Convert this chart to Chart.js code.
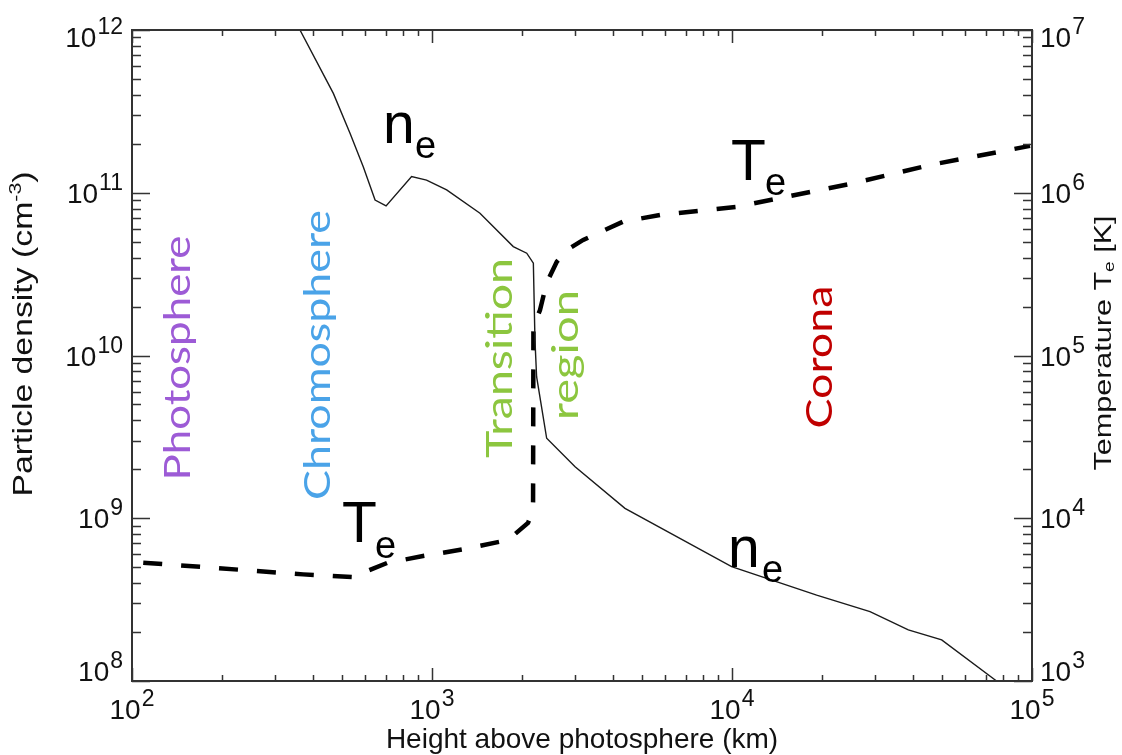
<!DOCTYPE html>
<html><head><meta charset="utf-8">
<script src="https://cdn.jsdelivr.net/npm/chart.js@4/dist/chart.umd.min.js"></script>
<style>html,body{margin:0;padding:0;background:#fff;} #wrap{width:1122px;height:755px;position:relative;}</style>
</head><body><div id="wrap"><canvas id="c"></canvas></div>
<script>
// ---- data ----
const heightNe  = [363, 469, 533, 590, 646, 703, 855, 959, 1119, 1445, 1866, 2069, 2177, 2204, 2232, 2411, 2999, 4398, 9970, 19150, 28840, 38700, 50000, 76200];
const densityNe = [1e12, 4.08e11, 2.32e11, 1.445e11, 9.02e10, 8.3e10, 1.256e11, 1.197e11, 1.04e11, 7.48e10, 4.67e10, 4.25e10, 3.69e10, 1.245e10, 7.41e9, 3.1e9, 2.07e9, 1.15e9, 5.04e8, 3.37e8, 2.67e8, 2.06e8, 1.79e8, 1.0e8];
const heightTe  = [109, 372, 541, 708, 933, 1268, 1792, 2089, 2172, 2178, 2291, 2411, 2606, 2812, 3192, 4335, 5754, 10380, 25300, 45700, 98500];
const tempTe    = [5330, 4520, 4350, 5310, 5860, 6440, 7350, 9350, 11250, 1.5e5, 1.905e5, 2.79e5, 3.77e5, 4.45e5, 5.13e5, 6.64e5, 7.3e5, 8.2e5, 1.143e6, 1.48e6, 1.94e6];
const xTickExps    = [2, 3, 4, 5];
const densTickExps = [8, 9, 10, 11, 12];
const tempTickExps = [3, 4, 5, 6, 7];
const xTitle = 'Height above photosphere (km)';
const leftTitleParts  = ['Particle density (cm', '-3', ')'];
const rightTitleParts = ['Temperature T', 'e', ' [K]'];
const regionNames = ['Photosphere', 'Chromosphere', 'Transition', 'region', 'Corona'];

// ---- layout / style ----
const regionStyle = [
  {color:'#9d5bd6', cx:178, cy:358, len:245},
  {color:'#4aa3e8', cx:318, cy:355, len:290},
  {color:'#8cc63f', cx:500, cy:358, len:200},
  {color:'#8cc63f', cx:566, cy:355, len:130},
  {color:'#c00000', cx:820, cy:357, len:143}
];
const SANS = '"Liberation Sans", Arial, Helvetica, sans-serif';
const REGION_FONT = 'Lato, "Open Sans", sans-serif';

function drawPow(ctx, exp, x, baseY, align) {
  ctx.textBaseline = 'alphabetic';
  ctx.font = '28px ' + SANS;
  const wb = ctx.measureText('10').width;
  ctx.font = '23px ' + SANS;
  const we = ctx.measureText(String(exp)).width;
  const total = wb + we + 1;
  let x0 = align === 'right' ? x - total : align === 'center' ? x - total / 2 : x;
  ctx.textAlign = 'left';
  ctx.font = '28px ' + SANS;
  ctx.fillText('10', x0, baseY);
  ctx.font = '23px ' + SANS;
  ctx.fillText(String(exp), x0 + wb + 1, baseY - 13);
}

function rotText(ctx, parts, cx, cy, targetLen) {
  // parts: [{t, font, dy}]
  ctx.save();
  ctx.translate(cx, cy);
  ctx.rotate(-Math.PI / 2);
  let w = 0;
  parts.forEach(p => { ctx.font = p.font; p.w = ctx.measureText(p.t).width; w += p.w; });
  const sx = targetLen ? targetLen / w : 1;
  ctx.scale(sx, 1);
  let x = -w / 2;
  ctx.textAlign = 'left';
  ctx.textBaseline = 'middle';
  parts.forEach(p => { ctx.font = p.font; ctx.fillText(p.t, x, p.dy || 0); x += p.w; });
  ctx.restore();
}

const decor = {
  id: 'decor',
  beforeDatasetsDraw(chart) {
    const ctx = chart.ctx;
    ctx.save();
    regionNames.forEach((name, i) => {
      const s = regionStyle[i];
      ctx.fillStyle = s.color;
      rotText(ctx, [{t:name, font:'36px ' + REGION_FONT}], s.cx, s.cy, s.len);
    });
    ctx.restore();
  },
  afterDatasetsDraw(chart) {
    const ctx = chart.ctx;
    const {left, right, top, bottom} = chart.chartArea;
    const xs = chart.scales.x, ys = chart.scales.y, ts = chart.scales.y2;
    ctx.save();
    ctx.strokeStyle = '#333';
    ctx.lineWidth = 2;
    ctx.strokeRect(left, top, right - left, bottom - top);
    ctx.lineWidth = 1.5;
    ctx.beginPath();
    // x ticks (bottom + top)
    for (let e = xTickExps[0]; e <= xTickExps[xTickExps.length - 1]; e++) {
      for (let m = 1; m <= 9; m++) {
        const v = m * Math.pow(10, e);
        if (v > xs.max * 1.0001) break;
        const px = Math.round(xs.getPixelForValue(v)) + 0.5;
        const L = m === 1 ? 13 : 6;
        ctx.moveTo(px, bottom); ctx.lineTo(px, bottom - L);
        ctx.moveTo(px, top); ctx.lineTo(px, top + L);
      }
    }
    // y ticks left and right
    const yTicks = (scale, exps, fromX, dir) => {
      for (let e = exps[0]; e <= exps[exps.length - 1]; e++) {
        for (let m = 1; m <= 9; m++) {
          const v = m * Math.pow(10, e);
          if (v > scale.max * 1.0001) break;
          const py = Math.round(scale.getPixelForValue(v)) + 0.5;
          const L = m === 1 ? 18 : 9;
          ctx.moveTo(fromX, py); ctx.lineTo(fromX + dir * L, py);
        }
      }
    };
    yTicks(ys, densTickExps, left, 1);
    yTicks(ts, tempTickExps, right, -1);
    ctx.stroke();

    // tick labels
    ctx.fillStyle = '#111';
    xTickExps.forEach(e => drawPow(ctx, e, xs.getPixelForValue(Math.pow(10, e)), 719, 'center'));
    const clampY = py => Math.min(Math.max(py + 10, top + 17), bottom);
    densTickExps.forEach(e => drawPow(ctx, e, left - 9, clampY(ys.getPixelForValue(Math.pow(10, e))), 'right'));
    tempTickExps.forEach(e => drawPow(ctx, e, right + 8, clampY(ts.getPixelForValue(Math.pow(10, e))), 'left'));

    // axis titles
    ctx.font = '28px ' + SANS;
    ctx.textAlign = 'center';
    ctx.textBaseline = 'alphabetic';
    ctx.fillText(xTitle, (left + right) / 2 + 0, 748);
    rotText(ctx, [
      {t:leftTitleParts[0], font:'27px ' + SANS},
      {t:leftTitleParts[1], font:'17px ' + SANS, dy:-9},
      {t:leftTitleParts[2], font:'27px ' + SANS}
    ], 25, 334, 325);
    rotText(ctx, [
      {t:rightTitleParts[0], font:'24px ' + SANS},
      {t:rightTitleParts[1], font:'15px ' + SANS, dy:6},
      {t:rightTitleParts[2], font:'24px ' + SANS}
    ], 1104, 343, 255);

    // curve annotations
    const ann = (big, bx, by, sx, sy) => {
      ctx.textAlign = 'left';
      ctx.textBaseline = 'alphabetic';
      ctx.font = '57px ' + SANS;
      ctx.fillText(big, bx, by);
      ctx.font = '38px ' + SANS;
      ctx.fillText('e', sx, sy);
    };
    ctx.fillStyle = '#000';
    ann('n', 383, 143, 415, 158);
    ann('n', 728, 567, 762, 582);
    ann('T', 342, 542, 375, 558);
    ann('T', 731, 180, 765, 195);
    ctx.restore();
  }
};

new Chart(document.getElementById('c'), {
  type: 'line',
  data: {
    datasets: [
      {label:'n_e', data: heightNe.map((h, i) => ({x:h, y:densityNe[i]})), yAxisID:'y',
       borderColor:'#1a1a1a', borderWidth:1.4, pointRadius:0, tension:0, fill:false},
      {label:'T_e', data: heightTe.map((h, i) => ({x:h, y:tempTe[i]})), yAxisID:'y2',
       borderColor:'#000', borderWidth:4.5, borderDash:[19, 19], pointRadius:0, tension:0, fill:false}
    ]
  },
  options: {
    responsive: true, maintainAspectRatio: false, animation: false, devicePixelRatio: 1,
    layout: {padding: {left:132, right:90, top:30, bottom:74}},
    plugins: {legend:{display:false}, tooltip:{enabled:false}},
    scales: {
      x:  {type:'logarithmic', min:1e2, max:1e5, display:false},
      y:  {type:'logarithmic', position:'left', min:1e8, max:1e12, display:false},
      y2: {type:'logarithmic', position:'right', min:1e3, max:1e7, display:false}
    }
  },
  plugins: [decor]
});
</script></body></html>
